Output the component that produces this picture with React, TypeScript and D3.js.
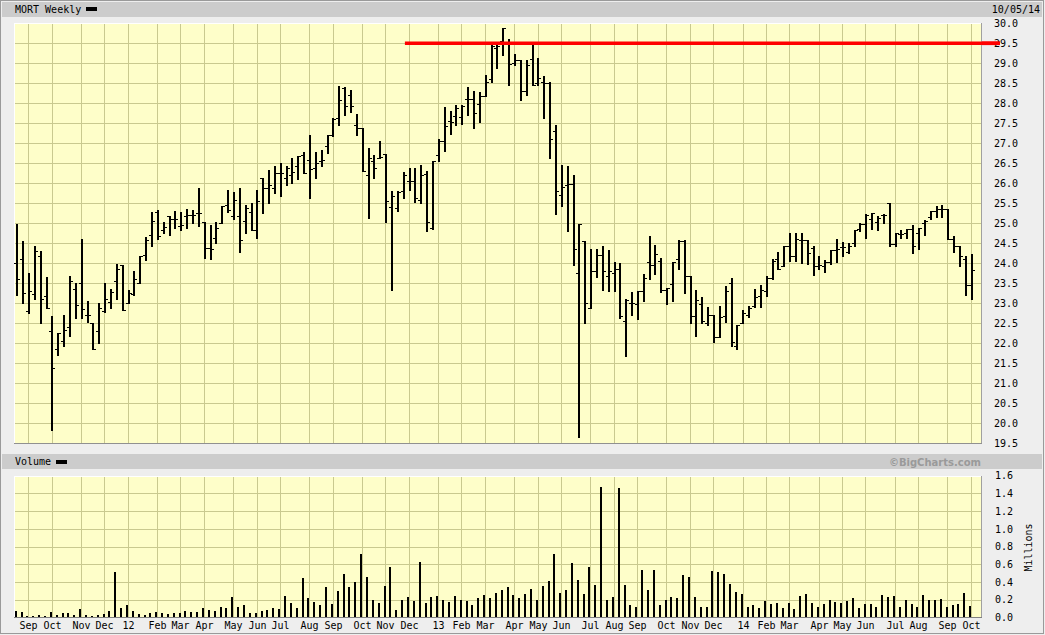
import React from 'react';
import * as d3 from 'd3';

// ---- DATA (weekly OHLC, MORT) ----
const weekOpen = [
  24.02,24.10,22.81,23.23,24.18,23.18,22.30,21.85,22.05,22.40,
  23.37,23.52,22.70,22.50,22.30,22.81,23.04,23.56,23.96,23.00,
  23.23,23.52,24.21,24.71,25.29,24.83,25.17,25.12,24.94,25.17,
  25.21,25.25,25.04,24.37,24.62,25.00,25.46,25.18,25.17,25.06,
  25.29,24.82,26.12,25.87,25.87,26.27,26.12,26.22,26.42,26.71,
  26.58,26.37,26.56,26.94,27.20,27.62,28.39,28.22,27.45,27.37,
  26.20,26.57,26.63,26.73,25.41,25.38,25.80,26.05,26.05,25.59,
  26.24,24.87,26.72,27.06,27.57,27.68,27.66,28.10,28.10,27.99,
  28.18,28.60,29.38,29.55,29.53,29.00,29.07,28.31,29.10,28.51,
  28.53,28.52,27.32,25.72,25.97,25.99,23.76,24.55,22.88,23.82,
  24.20,23.68,23.76,23.87,22.57,23.01,22.99,23.30,24.03,23.97,
  24.05,23.34,23.49,24.10,24.55,23.67,22.68,22.98,22.50,22.71,
  22.15,22.67,23.52,21.92,22.50,22.71,22.92,23.17,23.31,23.62,
  24.10,23.92,24.42,24.18,24.58,24.58,24.39,23.93,23.93,24.04,
  24.33,24.40,24.29,24.50,24.85,24.99,25.10,25.04,25.20,25.50,
  24.48,24.73,24.75,24.85,24.75,25.02,25.15,25.32,25.35,25.35,
  24.60,24.42,24.10,23.47,
];
const weekHigh = [
  24.98,24.56,23.77,24.43,24.31,23.66,22.67,22.25,22.71,23.68,
  23.52,24.61,23.06,22.50,23.00,23.52,23.36,23.98,23.96,23.33,
  23.81,24.18,24.65,25.29,25.33,25.04,25.17,25.31,25.29,25.36,
  25.33,25.87,25.04,24.96,25.04,25.43,25.83,25.79,25.87,25.47,
  25.50,25.83,26.12,26.33,26.44,26.50,26.42,26.64,26.67,26.79,
  27.21,26.79,26.83,27.21,27.62,28.43,28.41,28.32,27.73,27.37,
  26.88,26.72,27.06,26.73,25.80,25.82,26.28,26.39,26.39,26.47,
  26.30,26.55,27.10,27.91,27.80,27.95,27.95,28.41,28.30,28.28,
  28.72,29.47,29.53,29.88,29.60,29.24,29.07,29.07,29.47,29.13,
  28.67,28.53,27.45,26.47,26.42,26.22,24.99,24.55,24.35,24.35,
  24.42,24.32,24.03,24.02,23.10,23.28,23.32,23.74,24.67,24.47,
  24.13,23.38,24.03,24.58,24.58,23.67,23.33,23.15,22.90,22.71,
  22.93,23.42,23.62,22.46,22.83,22.93,23.37,23.46,23.67,24.10,
  24.29,24.42,24.75,24.75,24.77,24.58,24.42,24.18,24.08,24.33,
  24.60,24.54,24.50,24.82,25.00,25.23,25.27,25.18,25.23,25.50,
  24.75,24.83,24.85,24.97,24.89,25.08,25.32,25.43,25.46,25.35,
  24.67,24.43,24.18,24.23,
];
const weekLow = [
  23.21,23.02,22.75,23.12,22.50,22.87,19.82,21.72,21.92,22.17,
  22.62,22.62,22.54,21.85,22.00,22.79,22.87,23.11,22.83,23.00,
  23.21,23.52,24.08,24.42,24.60,24.75,24.71,24.89,24.83,24.89,
  25.00,24.92,24.12,24.10,24.50,25.00,25.29,25.12,24.29,24.75,
  24.82,24.64,25.25,25.50,25.75,25.69,25.97,26.00,26.11,26.25,
  25.64,26.12,26.42,26.77,27.18,27.47,27.72,27.78,27.20,26.32,
  25.14,26.13,26.62,25.03,23.34,25.30,25.62,25.84,25.53,25.51,
  24.80,24.85,26.55,26.80,27.24,27.45,27.49,27.70,27.38,27.53,
  28.18,28.53,28.89,29.22,28.45,28.95,28.09,28.22,28.45,28.47,
  27.64,26.64,25.24,25.42,24.80,23.97,19.67,22.52,22.87,23.66,
  23.34,23.30,23.30,22.63,21.67,22.72,22.60,23.05,23.60,23.74,
  23.28,22.99,23.07,23.85,23.27,22.50,22.17,22.50,22.46,22.04,
  22.15,22.54,21.92,21.85,22.50,22.65,22.90,22.90,23.18,23.60,
  23.87,23.92,24.07,24.07,24.00,23.98,23.71,23.87,23.79,23.98,
  24.04,24.17,24.25,24.43,24.80,24.64,24.85,24.83,25.00,24.43,
  24.43,24.62,24.62,24.25,24.35,24.71,25.10,25.15,25.15,24.60,
  24.29,23.92,23.21,23.12,
];
const weekClose = [
  23.60,23.25,23.31,24.31,23.10,22.87,21.38,22.25,22.33,23.56,
  22.97,22.85,22.72,21.85,22.87,23.12,23.29,23.85,22.83,23.25,
  23.61,24.18,24.58,25.06,24.68,24.90,25.12,25.11,24.97,25.21,
  25.22,25.27,24.37,24.35,24.89,25.42,25.33,25.58,24.58,25.37,
  24.82,25.56,25.87,25.96,26.27,26.27,26.37,26.29,26.67,26.27,
  26.35,26.50,26.58,27.21,27.60,28.07,27.92,27.92,27.37,26.32,
  26.63,26.38,26.66,25.55,25.68,25.78,26.20,26.05,25.62,26.20,
  25.03,26.55,27.06,27.43,27.53,27.87,27.92,28.10,27.77,28.18,
  28.53,29.43,29.43,29.87,28.99,29.07,28.31,28.95,28.47,28.62,
  28.52,27.12,25.80,25.91,25.99,24.35,24.99,23.02,23.82,24.20,
  23.80,23.80,23.87,22.67,23.09,23.02,23.30,23.64,23.95,24.24,
  23.34,23.38,24.03,24.55,23.67,22.68,23.08,22.57,22.71,22.15,
  22.65,23.32,22.04,22.46,22.77,22.87,23.15,23.33,23.62,24.07,
  23.87,24.42,24.18,24.60,24.58,24.25,23.93,23.96,24.04,24.33,
  24.35,24.40,24.42,24.82,24.99,25.22,25.27,25.13,25.20,24.48,
  24.75,24.73,24.85,24.42,24.87,25.07,25.32,25.35,25.35,24.60,
  24.43,24.17,23.47,23.83,
];
// weekly volume, millions of shares
const weekVolume = [
  0.07,0.06,0.015,0.015,0.026,0.015,0.06,0.026,0.05,0.05,
  0.026,0.094,0.026,0.015,0.026,0.038,0.07,0.51,0.105,0.14,
  0.07,0.038,0.026,0.05,0.06,0.05,0.038,0.05,0.05,0.07,
  0.06,0.06,0.105,0.083,0.07,0.117,0.105,0.23,0.117,0.14,
  0.05,0.05,0.07,0.083,0.105,0.094,0.24,0.16,0.105,0.44,
  0.22,0.17,0.14,0.34,0.15,0.30,0.49,0.34,0.40,0.72,
  0.45,0.19,0.16,0.35,0.57,0.08,0.19,0.23,0.18,0.63,
  0.16,0.23,0.24,0.19,0.17,0.24,0.20,0.18,0.14,0.22,
  0.25,0.22,0.28,0.31,0.34,0.25,0.22,0.26,0.32,0.20,
  0.35,0.41,0.71,0.27,0.31,0.61,0.42,0.26,0.57,0.36,
  1.47,0.20,0.23,1.46,0.36,0.14,0.12,0.53,0.31,0.53,
  0.14,0.19,0.23,0.22,0.48,0.46,0.23,0.12,0.12,0.52,
  0.51,0.49,0.38,0.29,0.26,0.12,0.14,0.10,0.18,0.15,
  0.16,0.10,0.16,0.09,0.24,0.26,0.16,0.12,0.15,0.20,
  0.17,0.16,0.18,0.22,0.11,0.15,0.15,0.12,0.25,0.23,
  0.24,0.12,0.19,0.15,0.12,0.25,0.20,0.20,0.21,0.12,
  0.14,0.15,0.28,0.13,
];
const monthLabels = ['Sep','Oct','Nov','Dec','12','Feb','Mar','Apr','May','Jun','Jul','Aug','Sep','Oct','Nov','Dec','13','Feb','Mar','Apr','May','Jun','Jul','Aug','Sep','Oct','Nov','Dec','14','Feb','Mar','Apr','May','Jun','Jul','Aug','Sep','Oct'];
const monthWeeks = [2,6,11,15,19,24,28,32,37,41,45,50,54,59,63,67,72,76,80,85,89,93,98,102,106,111,115,119,124,128,132,137,141,145,150,154,159,163];
const priceTicks = [19.5,20.0,20.5,21.0,21.5,22.0,22.5,23.0,23.5,24.0,24.5,25.0,25.5,26.0,26.5,27.0,27.5,28.0,28.5,29.0,29.5,30.0];
const volumeTicks = [0.0,0.2,0.4,0.6,0.8,1.0,1.2,1.4,1.6];
const resistanceLevel = 29.5;
const resistanceFromWeek = 66.2;
const title = 'MORT Weekly';
const dateLabel = '10/05/14';

const FONT = '"DejaVu Sans Mono", monospace';
const PLOT_L = 14;
const PLOT_R = 982;
const PRICE_T = 22.5;
const PRICE_B = 444;
const VOL_T = 475.5;
const VOL_B = 617.5;
const GRID = '#c9c98f';
const BG = '#fefec9';

export default function App() {
  const n = weekClose.length;
  const x = d3.scaleLinear().domain([0, n - 1]).range([17.3, 17.3 + (n - 1) * 5.855]);
  const yP = d3.scaleLinear().domain([19.5, 30]).range([443.3, 23.3]);
  const yV = d3.scaleLinear().domain([0, 1.6]).range([617.3, 475.7]);
  const idx = d3.range(n);

  const gx = (w: number) => Math.round(x(w) - 0.8) + 0.5;

  return (
    <svg width={1045} height={635} style={{ position: 'absolute', left: 0, top: 0, display: 'block' }}>
      <rect x={0} y={0} width={1045} height={635} fill="#eeeeee" />
      <rect x={0.5} y={0.5} width={1043} height={633} fill="none" stroke="#9a9a9a" />
      {/* headers */}
      <rect x={2} y={2} width={1040} height={15} fill="#cccccc" />
      <rect x={2} y={454} width={1040} height={15} fill="#cccccc" />
      <text x={15} y={13.3} fontFamily={FONT} fontSize={10} fill="#000">{title}</text>
      <rect x={86} y={7} width={11} height={4} fill="#000" />
      <text x={1040} y={13.3} fontFamily={FONT} fontSize={10} fill="#000" textAnchor="end">{dateLabel}</text>
      <text x={15} y={465.3} fontFamily={FONT} fontSize={10} fill="#000">Volume</text>
      <rect x={56} y={460} width={11} height={4} fill="#000" />
      <text x={981} y={465.5} fontFamily='"DejaVu Sans", sans-serif' fontWeight="bold" fontSize={10} fill="#9a9a9a" textAnchor="end">©BigCharts.com</text>

      {/* price plot */}
      <g shapeRendering="crispEdges">
        <rect x={PLOT_L} y={PRICE_T} width={PLOT_R - PLOT_L} height={PRICE_B - PRICE_T} fill={BG} />
        {priceTicks.map((t) => (
          <line key={'hp' + t} x1={PLOT_L} x2={PLOT_R} y1={Math.round(yP(t)) + 0.5} y2={Math.round(yP(t)) + 0.5} stroke={GRID} />
        ))}
        {monthWeeks.map((w, i) => (
          <line key={'vp' + i} x1={gx(w)} x2={gx(w)} y1={PRICE_T} y2={PRICE_B} stroke={GRID} />
        ))}
        <line x1={PLOT_L + 0.5} x2={PLOT_L + 0.5} y1={PRICE_T} y2={PRICE_B} stroke="#ffffff" />
        <line x1={PLOT_L} x2={PLOT_R} y1={PRICE_T + 0.5} y2={PRICE_T + 0.5} stroke="#ffffff" />
        <line x1={PLOT_R - 0.5} x2={PLOT_R - 0.5} y1={PRICE_T} y2={PRICE_B} stroke="#a0a0a0" />
        <line x1={PLOT_L} x2={PLOT_R} y1={PRICE_B - 0.5} y2={PRICE_B - 0.5} stroke="#909090" />
        {idx.map((i) => {
          const cx = Math.round(x(i) - 1);
          const yh = yP(weekHigh[i]);
          const yl = yP(weekLow[i]);
          const yo = Math.round(yP(weekOpen[i]));
          const yc = Math.round(yP(weekClose[i]));
          return (
            <g key={'b' + i} fill="#000">
              <rect x={cx} y={Math.round(yh)} width={2} height={Math.max(1, Math.round(yl) - Math.round(yh) + 1)} />
              <rect x={cx - 2} y={yo} width={2} height={1} />
              <rect x={cx + 2} y={yc} width={2} height={1} />
            </g>
          );
        })}
      </g>

      {/* resistance line */}
      <line x1={x(resistanceFromWeek)} x2={1000} y1={yP(resistanceLevel)} y2={yP(resistanceLevel)} stroke="#ff0000" strokeWidth={3.6} />

      {/* volume plot */}
      <g shapeRendering="crispEdges">
        <rect x={PLOT_L} y={VOL_T} width={PLOT_R - PLOT_L} height={VOL_B - VOL_T} fill={BG} />
        {volumeTicks.map((t) => (
          <line key={'hv' + t} x1={PLOT_L} x2={PLOT_R} y1={Math.round(yV(t)) + 0.5} y2={Math.round(yV(t)) + 0.5} stroke={GRID} />
        ))}
        {monthWeeks.map((w, i) => (
          <line key={'vv' + i} x1={gx(w)} x2={gx(w)} y1={VOL_T} y2={VOL_B} stroke={GRID} />
        ))}
        <line x1={PLOT_L + 0.5} x2={PLOT_L + 0.5} y1={VOL_T} y2={VOL_B} stroke="#ffffff" />
        <line x1={PLOT_L} x2={PLOT_R} y1={VOL_T + 0.5} y2={VOL_T + 0.5} stroke="#ffffff" />
        <line x1={PLOT_R - 0.5} x2={PLOT_R - 0.5} y1={VOL_T} y2={VOL_B} stroke="#a0a0a0" />
        {idx.map((i) => {
          const yt = Math.round(yV(weekVolume[i]));
          const yb = Math.round(yV(0));
          return <rect key={'v' + i} x={Math.round(x(i) - 2.6)} y={yt} width={2} height={Math.max(1, yb - yt)} fill="#000" />;
        })}
        <line x1={PLOT_L} x2={PLOT_R} y1={VOL_B - 0.5} y2={VOL_B - 0.5} stroke="#808080" />
      </g>

      {/* axis labels */}
      {priceTicks.map((t) => (
        <text key={'pl' + t} x={994} y={yP(t) + 3.7} fontFamily={FONT} fontSize={10} fill="#000">{t.toFixed(1)}</text>
      ))}
      {/* redraw resistance over axis label */}
      <line x1={PLOT_R} x2={1000} y1={yP(resistanceLevel)} y2={yP(resistanceLevel)} stroke="#ff0000" strokeWidth={3.6} />
      {volumeTicks.map((t) => (
        <text key={'vl' + t} x={995} y={yV(t) + 3.7} fontFamily={FONT} fontSize={10} fill="#000">{t.toFixed(1)}</text>
      ))}
      <text transform="translate(1032,547.5) rotate(-90)" textAnchor="middle" fontFamily={FONT} fontSize={10} fill="#000">Millions</text>
      {monthWeeks.map((w, i) => (
        <text key={'ml' + i} x={gx(w)} y={629.3} textAnchor="middle" fontFamily={FONT} fontSize={10} fill="#000">{monthLabels[i]}</text>
      ))}
    </svg>
  );
}
